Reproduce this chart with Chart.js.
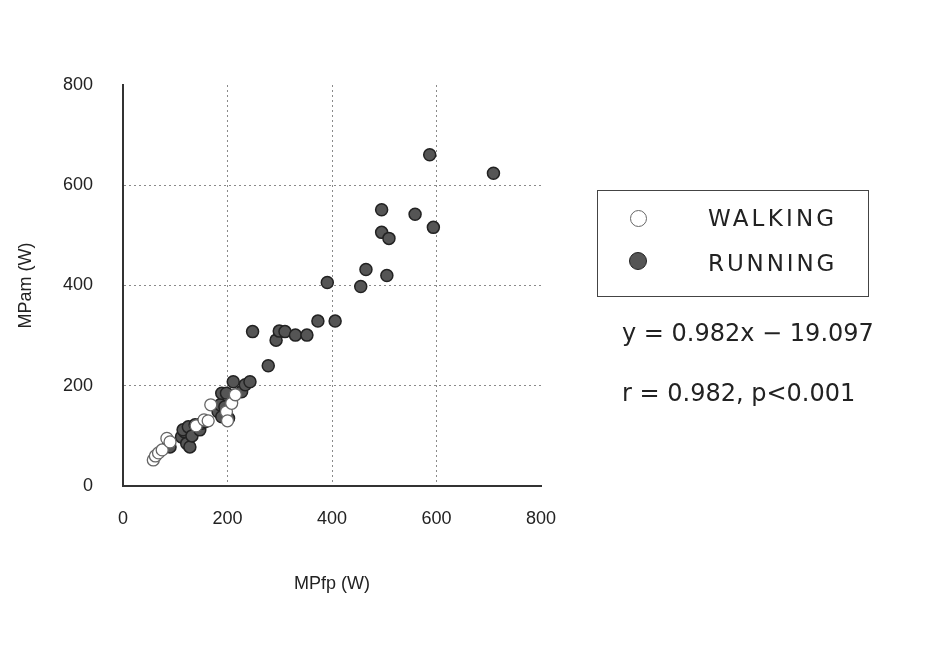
<!DOCTYPE html>
<html>
<head>
<meta charset="utf-8">
<script src="https://cdn.jsdelivr.net/npm/chart.js@4/dist/chart.umd.min.js"></script>
<style>
  html, body { margin: 0; padding: 0; background: #ffffff; }
  #wrap { position: relative; width: 934px; height: 671px; }
  canvas { position: absolute; left: 0; top: 0; }
  .txt { position: absolute; font-family: "DejaVu Sans", "Liberation Sans", Arial, sans-serif; color: #222; white-space: nowrap; }
  #legend { position: absolute; left: 597px; top: 190px; width: 272px; height: 107px; border: 1.5px solid #444; box-sizing: border-box; }
  .mk { position: absolute; border-radius: 50%; box-sizing: border-box; }
</style>
</head>
<body>
<div id="wrap">
  <canvas id="c" width="934" height="671"></canvas>
  <div id="legend"></div>
  <div class="mk" style="left:630px;top:210px;width:17px;height:17px;border:1.5px solid #666;background:#fff;"></div>
  <div class="mk" style="left:629px;top:252px;width:18px;height:18px;border:1.5px solid #222;background:#555;"></div>
  <div class="txt" style="left:708px;top:205px;font-size:23px;letter-spacing:3.2px;">WALKING</div>
  <div class="txt" style="left:708px;top:250px;font-size:23px;letter-spacing:2.9px;">RUNNING</div>
  <div class="txt" style="left:622px;top:319px;font-size:24px;">y = 0.982x − 19.097</div>
  <div class="txt" style="left:622px;top:379px;font-size:24px;">r = 0.982, p&lt;0.001</div>
</div>
<script>
const seriesNames = ["WALKING", "RUNNING"];
const xTicks = [0, 200, 400, 600, 800];
const yTicks = [0, 200, 400, 600, 800];
const xTitle = "MPfp (W)";
const yTitle = "MPam (W)";

const walkingX = [58, 62, 68, 75, 84, 90, 140, 155, 163, 168, 198, 208, 215, 200];
const walkingY = [52, 60, 66, 72, 95, 88, 120, 132, 130, 162, 148, 165, 182, 130];

const runningX = [87, 90, 112, 118, 122, 128, 115, 125, 132, 138, 147, 151, 157, 182, 186, 189, 195, 202, 189, 198, 227, 211, 234, 243,
                  248, 278, 293, 299, 310, 330, 352, 373, 391, 406,
                  455, 465, 505, 495, 509, 495, 559, 594, 587, 709];
const runningY = [82, 78, 98, 108, 85, 78, 112, 118, 100, 122, 112, 125, 128, 148, 162, 138, 158, 135, 185, 185, 188, 208, 202, 208,
                  308, 240, 291, 309, 308, 301, 301, 329, 406, 329,
                  398, 432, 420, 506, 494, 551, 542, 516, 661, 624];

const toPts = (xs, ys) => xs.map((x, i) => ({ x: x, y: ys[i] }));

const FONT = "'Liberation Sans', Arial, sans-serif";
const gridColor = (ctx) => (ctx.tick && (ctx.tick.value === 0 || ctx.tick.value === 800)) ? 'rgba(0,0,0,0)' : '#8a8a8a';

new Chart(document.getElementById('c'), {
  type: 'scatter',
  data: {
    datasets: [
      { label: seriesNames[0], data: toPts(walkingX, walkingY), backgroundColor: '#ffffff', borderColor: '#666666', borderWidth: 1.3, pointRadius: 6, pointHoverRadius: 6 },
      { label: seriesNames[1], data: toPts(runningX, runningY), backgroundColor: '#555555', borderColor: '#222222', borderWidth: 1.5, pointRadius: 6, pointHoverRadius: 6 }
    ]
  },
  options: {
    responsive: false,
    animation: false,
    events: [],
    layout: { padding: { top: 85, right: 393, left: 0, bottom: 0 } },
    plugins: { legend: { display: false }, tooltip: { enabled: false } },
    scales: {
      x: {
        type: 'linear', min: 0, max: 800,
        afterBuildTicks: (s) => { s.ticks = xTicks.map(v => ({ value: v })); },
        afterFit: (s) => { s.height = 185; },
        border: { display: true, color: '#333', width: 2, dash: [2, 3] },
        grid: { color: gridColor, lineWidth: 1, drawTicks: false },
        ticks: { color: '#222', font: { family: FONT, size: 18 }, padding: 22, maxRotation: 0 },
        title: { display: true, text: xTitle, color: '#222', font: { family: FONT, size: 18 }, padding: { top: 0, bottom: 76 } }
      },
      y: {
        type: 'linear', min: 0, max: 800,
        afterBuildTicks: (s) => { s.ticks = yTicks.map(v => ({ value: v })); },
        afterFit: (s) => { s.width = 123; },
        border: { display: true, color: '#333', width: 2, dash: [2, 3] },
        grid: { color: gridColor, lineWidth: 1, drawTicks: false },
        ticks: { color: '#222', font: { family: FONT, size: 18 }, padding: 30 },
        title: { display: true, text: yTitle, color: '#222', font: { family: FONT, size: 18 }, padding: { top: 15, bottom: 0 } }
      }
    }
  }
});
</script>
</body>
</html>
